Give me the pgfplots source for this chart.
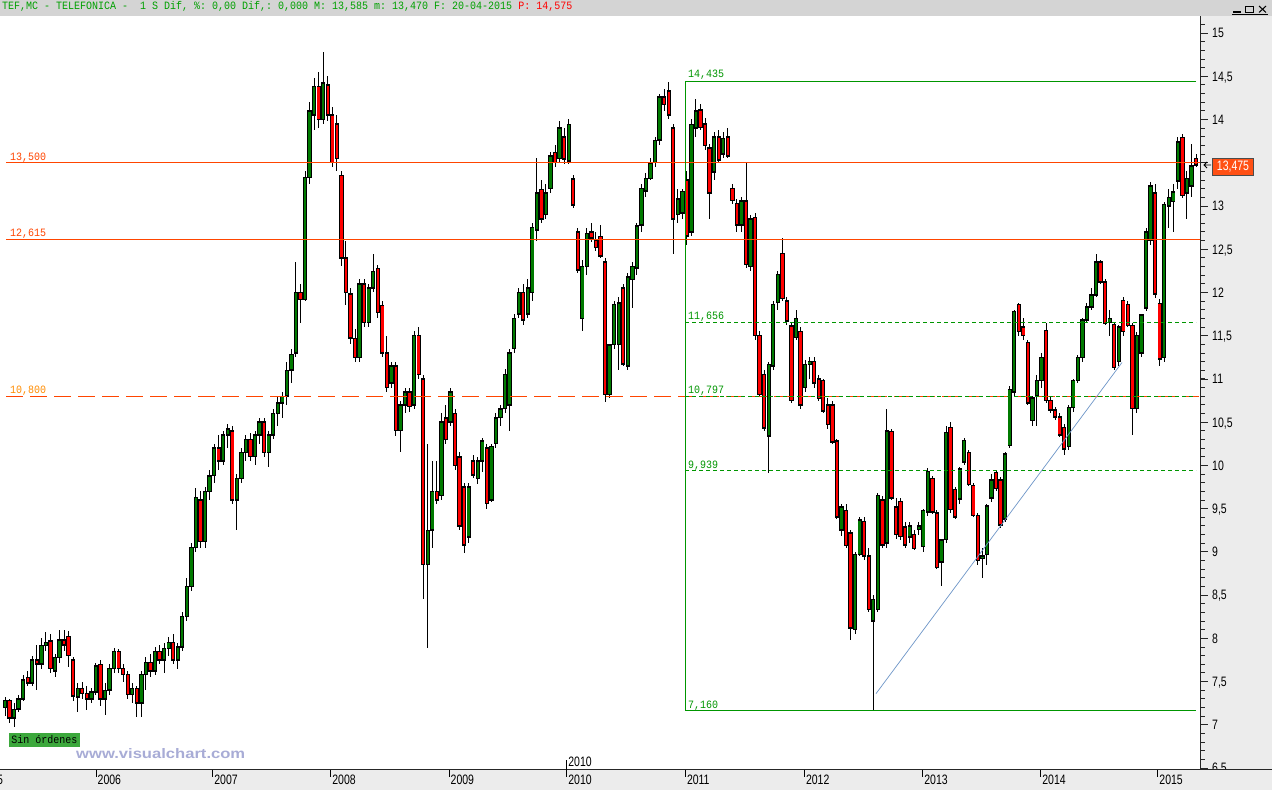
\documentclass[border=0pt]{standalone}
\usepackage{fontspec}
\setmainfont{Liberation Sans}
\setmonofont{Liberation Mono}
\usepackage{graphicx}
\usepackage{pgfplots}
\usepackage{pgfplotstable}
\pgfplotsset{compat=1.18}

\definecolor{hdrgray}{RGB}{212,212,212}
\definecolor{pangray}{RGB}{236,236,236}
\definecolor{cgreen}{RGB}{0,122,0}
\definecolor{cred}{RGB}{255,0,0}
\definecolor{lvl}{RGB}{255,69,0}
\definecolor{lvlb}{RGB}{255,140,0}
\definecolor{fib}{RGB}{0,150,0}
\definecolor{trend}{RGB}{110,150,200}
\definecolor{wm}{RGB}{168,172,214}
\definecolor{boxgreen}{RGB}{60,168,60}
\definecolor{lastbox}{RGB}{255,80,20}
\definecolor{hdrgreen}{RGB}{0,160,0}

\newcommand\ax[1]{{\fontsize{10.5pt}{10.5pt}\selectfont\scalebox{1}[1.3]{#1}}}
\newcommand\mono[1]{{\ttfamily\fontsize{10pt}{10pt}\selectfont\scalebox{1}[1.12]{#1}}}

% two-week candles: open high low close
\pgfplotstableread{
o h l c
7.20 7.32 7.10 7.28
7.28 7.30 7.02 7.08
7.08 7.25 6.97 7.18
7.18 7.35 7.15 7.30
7.30 7.58 7.28 7.52
7.55 7.62 7.45 7.48
7.48 7.80 7.45 7.75
7.75 7.92 7.40 7.70
7.70 8.00 7.65 7.92
7.92 8.07 7.85 7.95
7.97 8.05 7.60 7.65
7.62 7.82 7.55 7.78
7.78 8.10 7.72 7.98
7.98 8.10 7.85 7.92
8.02 8.08 7.67 7.80
7.75 7.78 7.28 7.33
7.32 7.48 7.15 7.42
7.42 7.50 7.30 7.36
7.36 7.45 7.17 7.30
7.30 7.42 7.25 7.38
7.38 7.72 7.35 7.68
7.70 7.75 7.22 7.30
7.30 7.48 7.11 7.40
7.40 7.70 7.35 7.65
7.65 7.89 7.60 7.85
7.85 7.88 7.60 7.65
7.65 7.70 7.50 7.58
7.58 7.62 7.30 7.35
7.35 7.48 7.25 7.42
7.42 7.45 7.09 7.25
7.25 7.62 7.09 7.58
7.58 7.78 7.40 7.72
7.72 7.82 7.55 7.62
7.62 7.90 7.58 7.85
7.85 7.92 7.70 7.75
7.75 7.95 7.60 7.88
7.88 8.02 7.80 7.95
7.95 8.05 7.70 7.75
7.75 7.95 7.65 7.90
7.90 8.30 7.85 8.25
8.25 8.70 8.20 8.60
8.60 9.10 8.55 9.05
9.05 9.74 9.00 9.63
9.60 9.70 9.05 9.12
9.12 9.75 9.05 9.70
9.70 9.95 9.60 9.88
9.88 10.25 9.80 10.20
10.20 10.35 9.95 10.05
10.05 10.40 10.00 10.35
10.35 10.48 10.20 10.42
10.40 10.45 9.55 9.60
9.60 9.90 9.25 9.85
9.85 10.20 9.80 10.15
10.15 10.35 10.05 10.30
10.30 10.38 10.05 10.10
10.10 10.40 10.00 10.35
10.35 10.55 10.25 10.50
10.50 10.55 10.10 10.15
10.15 10.40 9.98 10.35
10.35 10.65 10.30 10.60
10.60 10.80 10.45 10.72
10.72 10.85 10.55 10.80
10.80 11.20 10.70 11.10
11.10 11.35 10.95 11.28
11.30 12.35 11.25 12.00
12.00 12.10 11.65 11.92
11.92 13.40 11.90 13.33
13.33 14.20 13.25 14.10
14.05 14.48 13.88 14.38
14.38 14.55 13.90 14.00
14.00 14.78 13.95 14.42
14.40 14.50 13.98 14.05
14.05 14.15 13.45 13.50
13.95 14.05 13.40 13.55
13.35 13.40 12.30 12.40
12.40 12.60 11.85 12.00
11.98 12.05 11.40 11.47
11.47 11.58 11.20 11.25
11.25 12.15 11.20 12.10
12.10 12.15 11.60 11.65
11.65 12.10 11.60 12.05
12.05 12.45 12.00 12.24
12.28 12.32 11.70 11.77
11.85 11.90 11.25 11.30
11.30 11.50 10.85 10.90
10.95 11.20 10.90 11.15
11.15 11.20 10.34 10.40
10.40 10.75 10.15 10.70
10.70 10.90 10.60 10.85
10.85 10.90 10.62 10.68
10.70 11.55 10.65 11.50
11.50 11.60 11.00 11.05
11.00 11.05 8.45 8.85
8.85 10.25 7.89 9.25
9.25 10.05 9.05 9.70
9.70 10.05 9.55 9.60
9.65 10.60 9.60 10.50
10.55 10.70 10.25 10.30
10.50 10.90 10.45 10.85
10.60 10.65 9.95 10.00
10.10 10.15 9.25 9.30
9.75 9.80 8.99 9.08
9.17 9.80 9.10 9.75
10.05 10.12 9.85 9.89
9.85 10.10 9.78 10.05
10.05 10.32 9.92 10.28
10.20 10.25 9.50 9.56
9.60 10.25 9.58 10.22
10.25 10.60 10.20 10.55
10.55 10.70 10.45 10.65
10.66 11.12 10.60 11.05
10.70 11.35 10.40 11.30
11.35 11.75 11.30 11.70
11.75 12.05 11.70 12.00
12.00 12.10 11.62 11.68
11.75 12.15 11.70 12.05
12.00 12.80 11.90 12.75
12.72 13.55 12.60 13.15
13.19 13.30 12.80 12.85
12.90 13.25 12.85 13.15
13.20 13.62 13.15 13.58
13.62 13.70 13.45 13.50
13.55 13.98 13.50 13.90
13.80 13.90 13.48 13.54
13.52 14.00 13.48 13.94
13.31 13.36 12.98 13.01
12.70 12.75 12.22 12.26
11.70 12.38 11.55 12.30
12.30 12.75 12.20 12.68
12.70 12.80 12.58 12.63
12.60 12.70 12.48 12.52
12.65 12.78 12.40 12.42
12.35 12.40 10.73 10.82
10.82 11.40 10.78 11.39
11.40 11.90 11.35 11.86
11.40 11.95 11.10 11.88
12.05 12.10 11.15 11.17
11.15 12.22 11.10 12.18
12.15 12.35 11.82 12.30
12.28 12.80 12.20 12.77
12.78 13.25 12.70 13.20
13.17 13.38 13.10 13.32
13.32 13.55 13.30 13.50
13.50 13.80 13.45 13.76
13.76 14.30 13.70 14.26
14.26 14.35 14.10 14.17
14.33 14.43 14.00 14.05
13.90 13.95 12.45 12.85
12.90 13.20 12.80 13.08
12.92 13.20 12.85 13.17
13.30 13.40 12.55 12.65
12.70 14.00 12.65 13.94
13.90 14.24 13.80 14.10
14.11 14.18 13.88 13.91
13.95 14.02 13.65 13.70
13.67 13.72 12.85 13.15
13.39 13.85 13.30 13.80
13.80 13.88 13.50 13.53
13.60 13.85 13.55 13.78
13.80 13.90 13.55 13.58
13.20 13.25 13.02 13.06
13.03 13.08 12.70 12.78
12.78 13.10 12.70 13.06
13.06 13.50 12.28 12.32
12.30 12.90 12.25 12.85
12.87 12.92 11.45 11.50
11.50 11.55 10.79 10.82
11.05 11.10 10.40 10.43
10.34 11.20 9.91 11.17
11.15 11.90 11.10 11.86
11.88 12.25 11.80 12.21
12.45 12.63 11.90 11.93
11.90 11.95 11.62 11.67
11.61 11.65 10.72 10.75
11.48 11.80 11.45 11.70
11.55 11.60 10.65 10.70
10.90 11.22 10.85 11.17
11.17 11.25 11.00 11.20
11.20 11.25 10.90 10.95
11.00 11.05 10.75 10.77
10.98 11.00 10.60 10.63
10.70 10.78 10.42 10.47
10.70 10.75 10.25 10.27
10.28 10.30 9.38 9.40
9.25 9.55 9.18 9.52
9.48 9.55 9.05 9.07
9.22 9.25 7.98 8.12
8.10 9.00 8.05 8.97
8.97 9.40 8.95 9.37
9.35 9.40 8.90 8.95
8.95 9.05 8.30 8.33
8.20 8.50 7.16 8.45
8.33 9.68 8.30 9.65
9.60 9.65 9.05 9.08
9.10 10.65 9.05 10.40
10.39 10.42 9.60 9.62
9.52 9.62 9.15 9.20
9.58 9.62 9.14 9.18
9.29 9.35 9.05 9.08
9.17 9.35 9.10 9.30
9.20 9.25 9.02 9.04
9.26 9.35 9.20 9.30
9.06 9.50 9.00 9.48
9.46 9.97 9.42 9.93
9.85 9.88 9.44 9.46
9.45 9.48 8.80 8.82
8.88 9.15 8.60 9.14
9.14 10.45 9.10 10.38
10.44 10.50 9.45 9.49
9.72 9.75 9.38 9.40
9.61 9.98 9.55 9.96
10.04 10.32 10.00 10.29
10.15 10.18 9.76 9.78
9.77 9.80 9.40 9.42
9.42 9.45 8.85 8.90
8.92 9.05 8.70 8.95
8.97 9.55 8.85 9.53
9.62 9.90 9.58 9.83
9.92 9.95 9.70 9.73
9.83 9.86 9.28 9.31
9.38 10.15 9.35 10.13
10.23 10.92 10.20 10.88
10.85 11.80 10.80 11.78
11.86 11.88 11.50 11.55
11.60 11.70 11.45 11.50
11.42 11.45 10.70 10.72
10.52 10.80 10.45 10.78
10.80 11.05 10.45 10.98
10.98 11.30 10.90 11.25
11.56 11.65 10.72 10.75
10.75 10.80 10.60 10.64
10.64 10.68 10.52 10.56
10.56 10.60 10.33 10.35
10.44 10.48 10.12 10.19
10.22 10.70 10.18 10.67
10.67 11.00 10.62 10.98
10.98 11.28 10.95 11.25
11.25 11.70 11.20 11.68
11.68 11.88 11.65 11.83
11.83 12.05 11.80 11.97
11.97 12.44 11.95 12.35
12.35 12.38 12.10 12.12
12.12 12.15 11.62 11.64
11.65 11.80 11.50 11.70
11.63 11.66 11.10 11.13
11.20 11.62 11.15 11.60
11.91 11.95 11.50 11.55
11.86 11.90 11.60 11.62
11.62 11.65 10.35 10.66
10.66 11.54 10.60 11.50
11.30 11.75 11.25 11.74
11.82 12.74 11.78 12.70
12.60 13.28 12.55 13.23
13.15 13.25 11.94 11.98
11.87 11.92 11.15 11.23
11.25 13.05 11.20 13.02
13.00 13.20 12.75 13.10
13.05 13.25 12.70 13.16
13.29 13.80 13.20 13.74
13.79 13.83 13.09 13.12
13.15 13.40 12.85 13.32
13.23 13.72 13.10 13.46
13.55 13.60 13.45 13.475
}\candles

\begin{document}
\begin{tikzpicture}[x=1pt,y=1pt]
\useasboundingbox (0,-20) rectangle (1272,770);
\fill[white] (0,0) rectangle (1200,754);
\fill[hdrgray] (0,754) rectangle (1272,770);
\fill[pangray] (1200,-20) rectangle (1272,754);

\begin{axis}[
  at={(0,0)}, anchor=south west,
  scale only axis, width=1200pt, height=754pt,
  xmin=0, xmax=1200, ymin=6.477, ymax=15.197,
  axis lines=none, ticks=none,
  clip=false,
  candle/.style={draw=none, mark=none, error bars/.cd, y dir=both, y explicit, error mark=none},
]
  % wicks
  \addplot[candle, error bar style={draw=black, solid, line width=1pt}]
    table[x expr=5+\coordindex*4.546, y expr=(\thisrow{h}+\thisrow{l})/2,
          y error expr=(\thisrow{h}-\thisrow{l})/2] {\candles};
  % body outlines
  \addplot[candle, error bar style={draw=black, solid, line width=4.3pt}]
    table[x expr=5+\coordindex*4.546, y expr=(\thisrow{o}+\thisrow{c})/2,
          y error expr={abs(\thisrow{o}-\thisrow{c})/2+0.008}] {\candles};
  % rising bodies
  \addplot[restrict expr to domain={\thisrow{c}-\thisrow{o}}{0:100},
    candle, error bar style={draw=cgreen, solid, line width=2.4pt}]
    table[x expr=5+\coordindex*4.546, y expr=(\thisrow{o}+\thisrow{c})/2,
          y error expr={max(abs(\thisrow{o}-\thisrow{c})/2-0.009,0)}] {\candles};
  % falling bodies
  \addplot[restrict expr to domain={\thisrow{o}-\thisrow{c}}{0.0001:100},
    candle, error bar style={draw=cred, solid, line width=2.4pt}]
    table[x expr=5+\coordindex*4.546, y expr=(\thisrow{o}+\thisrow{c})/2,
          y error expr={max(abs(\thisrow{o}-\thisrow{c})/2-0.009,0)}] {\candles};

  % horizontal levels
  \addplot[lvl, line width=1pt] coordinates {(6,13.5) (1200,13.5)};
  \addplot[lvl, line width=1pt] coordinates {(6,12.615) (1200,12.615)};
  \addplot[lvl, line width=1pt, dash pattern=on 17pt off 7pt] coordinates {(6,10.8) (1200,10.8)};

  % retracement frame
  \addplot[fib, line width=1pt] coordinates {(1196,14.435) (685,14.435) (685,7.16) (1196,7.16)};
  \addplot[fib, line width=1pt, dash pattern=on 4pt off 3pt] coordinates {(685,11.656) (1196,11.656)};
  \addplot[fib, line width=1pt, dash pattern=on 4pt off 3pt] coordinates {(685,10.797) (1196,10.797)};
  \addplot[fib, line width=1pt, dash pattern=on 4pt off 3pt] coordinates {(685,9.939) (1196,9.939)};

  % trend line
  \addplot[trend, line width=0.7pt] coordinates {(876,7.36) (1122,11.19)};

  \node[anchor=base west, inner sep=0pt, text=lvl] at (axis cs:10,13.5) [yshift=2.5pt] {\mono{13,500}};
  \node[anchor=base west, inner sep=0pt, text=lvl] at (axis cs:10,12.615) [yshift=2.5pt] {\mono{12,615}};
  \node[anchor=base west, inner sep=0pt, text=lvlb] at (axis cs:10,10.8) [yshift=2.5pt] {\mono{10,800}};
  \node[anchor=base west, inner sep=0pt, text=fib] at (axis cs:688,14.435) [yshift=4pt] {\mono{14,435}};
  \node[anchor=base west, inner sep=0pt, text=fib] at (axis cs:688,11.656) [yshift=2.5pt] {\mono{11,656}};
  \node[anchor=base west, inner sep=0pt, text=fib] at (axis cs:688,10.797) [yshift=2.5pt] {\mono{10,797}};
  \node[anchor=base west, inner sep=0pt, text=fib] at (axis cs:688,9.939) [yshift=2.5pt] {\mono{9,939}};
  \node[anchor=base west, inner sep=0pt, text=fib] at (axis cs:688,7.16) [yshift=2.5pt] {\mono{7,160}};
\end{axis}

% right price scale (the 13,5 label sits under the last-price box)
\draw[black!85, line width=1pt] (1200.5,0) -- (1200.5,754);
\foreach \i in {0,...,86}
  \draw[black!85, line width=0.8pt] (1200.5,{(6.5+\i*0.1-6.477)*86.467}) -- ++(4,0);
\foreach \v in {6.5,7,...,15}
  \draw[black!85, line width=0.8pt] (1200.5,{(\v-6.477)*86.467}) -- ++(7,0);
\foreach \v/\t in {6.5/{6,5},7/7,7.5/{7,5},8/8,8.5/{8,5},9/9,9.5/{9,5},10/10,10.5/{10,5},11/11,11.5/{11,5},12/12,12.5/{12,5},13/13,14/14,14.5/{14,5},15/15}
  \node[anchor=base west, inner sep=0pt, text=black] at (1212,{(\v-6.477)*86.467-4.9}) {\ax{\t}};

% last price
\draw[black, line width=0.8pt] (1204,605) -- (1211,605) (1207,608) -- (1204,605) -- (1207,602);
\fill[lastbox] (1212.5,595) rectangle (1253.5,612);
\draw[black!70, line width=0.8pt] (1212.5,595) rectangle (1253.5,612);
\node[text=white, inner sep=0pt] at (1233,603.5) {\ax{13,475}};

% bottom strip
\fill[pangray] (0,-20) rectangle (1272,0);
\draw[black!85, line width=1pt] (0,0) -- (1272,0);
\foreach \x/\y in {-22/2005,96/2006,212.7/2007,330.7/2008,449/2009,566.7/2010,685.3/2011,804.3/2012,922.7/2013,1040.7/2014,1157.7/2015} {
  \draw[black, line width=0.8pt] (\x,0) -- (\x,-7);
  \node[anchor=base west, inner sep=0pt] at (\x+1.5,-15) {\ax{\y}};
}
\draw[black, line width=0.8pt] (566.7,0) -- (566.7,10);
\node[anchor=base west, inner sep=0pt] at (568.2,3.3) {\ax{2010}};

% header
\node[anchor=base west, inner sep=0pt] at (2,760) {\mono{\textcolor{hdrgreen}{TEF,MC - TELEFONICA -~~1 S Dif, \%: 0,00 Dif,: 0,000 M: 13,585 m: 13,470 F: 20-04-2015} \textcolor{red}{P: 14,575}}};
\draw[black, line width=1.2pt] (1233,758) -- (1241,758);
\draw[black, line width=0.8pt] (1245,757.5) rectangle (1253,764);
\draw[black, line width=1.6pt] (1245,763.5) -- (1253,763.5);
\draw[black, line width=1pt] (1259,757.5) -- (1266,764) (1259,764) -- (1266,757.5);
\draw[black, line width=0.6pt] (1232,756) -- (1268,756);

% footer marks
\fill[boxgreen] (9,23) rectangle (80,37);
\node[inner sep=0pt, text=black] at (44.5,30) {\mono{Sin órdenes}};
\node[anchor=base west, inner sep=0pt, text=wm] at (76,11) {\resizebox{169pt}{10pt}{\bfseries www.visualchart.com}};
\end{tikzpicture}
\end{document}
